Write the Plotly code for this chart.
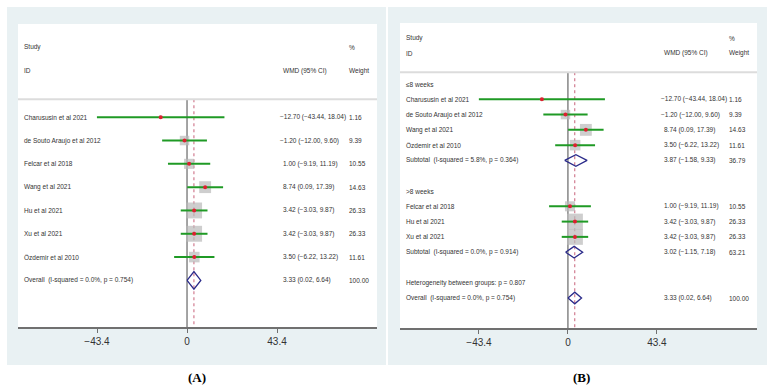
import plotly.graph_objects as go

# ---------------- data ----------------
studies_A = ["Charususin et al 2021", "de Souto Araujo et al 2012", "Felcar et al 2018",
             "Wang et al 2021", "Hu et al 2021", "Xu et al 2021", "Özdemir et al 2010"]
est_A = [-12.70, -1.20, 1.00, 8.74, 3.42, 3.42, 3.50]
lo_A = [-43.44, -12.00, -9.19, 0.09, -3.03, -3.03, -6.22]
hi_A = [18.04, 9.60, 11.19, 17.39, 9.87, 9.87, 13.22]
w_A = [1.16, 9.39, 10.55, 14.63, 26.33, 26.33, 11.61]

overall_label = "Overall  (I-squared = 0.0%, p = 0.754)"
overall_est, overall_lo, overall_hi, overall_w = 3.33, 0.02, 6.64, 100.00

group1_title = "≤8 weeks"
studies_B1 = ["Charususin et al 2021", "de Souto Araujo et al 2012", "Wang et al 2021", "Özdemir et al 2010"]
est_B1 = [-12.70, -1.20, 8.74, 3.50]
lo_B1 = [-43.44, -12.00, 0.09, -6.22]
hi_B1 = [18.04, 9.60, 17.39, 13.22]
w_B1 = [1.16, 9.39, 14.63, 11.61]
sub1_label = "Subtotal  (I-squared = 5.8%, p = 0.364)"
sub1 = [3.87, -1.58, 9.33, 36.79]

group2_title = ">8 weeks"
studies_B2 = ["Felcar et al 2018", "Hu et al 2021", "Xu et al 2021"]
est_B2 = [1.00, 3.42, 3.42]
lo_B2 = [-9.19, -3.03, -3.03]
hi_B2 = [11.19, 9.87, 9.87]
w_B2 = [10.55, 26.33, 26.33]
sub2_label = "Subtotal  (I-squared = 0.0%, p = 0.914)"
sub2 = [3.02, -1.15, 7.18, 63.21]

het_label = "Heterogeneity between groups: p = 0.807"

tick_vals = [-43.4, 0, 43.4]
tick_text = ["−43.4", "0", "43.4"]

# ---------------- style ----------------
FONT = "Liberation Sans, Arial, sans-serif"
TXT = "#333333"
GREEN = "#1f9a25"
NAVY = "#2b2b8a"
GRAY = "#b9b9b9"
RED = "#dd2030"
BOX = "#e9f1f3"

def fmt(v):
    return f"{v:.2f}".replace("-", "−")

def ci_text(e, l, h):
    return f"{fmt(e)} ({fmt(l)}, {fmt(h)})"

fig = go.Figure()
annotations = []
shapes = []

def add_panel(xa, ya, rows, xrange_, yrange_, fsize, col_label, col_ci, col_w):
    xr = "x" if xa == 1 else f"x{xa}"
    yr = "y" if ya == 1 else f"y{ya}"
    for txt, xpos, ypos in [("Study", col_label, -3), ("ID", col_label, -2),
                            ("%", col_w, -3), ("WMD (95% CI)", col_ci, -2), ("Weight", col_w, -2)]:
        annotations.append(dict(x=xpos, y=ypos, xref=xr, yref=yr, text=txt, showarrow=False,
                                xanchor="left", yanchor="middle",
                                font=dict(family=FONT, size=fsize, color=TXT)))
    hdr_y = -0.77
    shapes.append(dict(type="line", xref=f"{xr} domain", yref=yr, x0=0, x1=1, y0=hdr_y, y1=hdr_y,
                       line=dict(color="#dcdcdc", width=2), layer="above"))
    fig.add_trace(go.Scatter(x=[0, 0], y=[hdr_y, yrange_[0]], mode="lines",
                             line=dict(color="#4a4a4a", width=1), xaxis=xr, yaxis=yr,
                             hoverinfo="skip", showlegend=False))
    fig.add_trace(go.Scatter(x=[overall_est, overall_est], y=[hdr_y, yrange_[0]], mode="lines",
                             line=dict(color="#c8627a", width=1, dash="3px,3px"), xaxis=xr, yaxis=yr,
                             hoverinfo="skip", showlegend=False))
    study_rows = [r for r in rows if r["kind"] == "study"]
    fig.add_trace(go.Scatter(x=[r["est"] for r in study_rows], y=[r["y"] for r in study_rows],
                             mode="markers",
                             marker=dict(symbol="square", color=GRAY,
                                         size=[3.1 * r["w"] ** 0.5 for r in study_rows],
                                         line=dict(width=0)),
                             xaxis=xr, yaxis=yr, hoverinfo="skip", showlegend=False))
    cx, cy = [], []
    for r in study_rows:
        cx += [r["lo"], r["hi"], None]
        cy += [r["y"], r["y"], None]
    fig.add_trace(go.Scatter(x=cx, y=cy, mode="lines", line=dict(color=GREEN, width=2),
                             xaxis=xr, yaxis=yr, hoverinfo="skip", showlegend=False))
    fig.add_trace(go.Scatter(x=[r["est"] for r in study_rows], y=[r["y"] for r in study_rows],
                             mode="markers", marker=dict(symbol="circle", color=RED, size=4),
                             xaxis=xr, yaxis=yr, hoverinfo="skip", showlegend=False))
    dx, dy = [], []
    for r in rows:
        if r["kind"] == "diamond":
            h = 0.38
            dx += [r["lo"], r["est"], r["hi"], r["est"], r["lo"], None]
            dy += [r["y"], r["y"] - h, r["y"], r["y"] + h, r["y"], None]
    fig.add_trace(go.Scatter(x=dx, y=dy, mode="lines", line=dict(color=NAVY, width=1.3),
                             xaxis=xr, yaxis=yr, hoverinfo="skip", showlegend=False))
    for r in rows:
        annotations.append(dict(x=col_label, y=r["y"], xref=xr, yref=yr, text=r["label"], showarrow=False,
                                xanchor="left", yanchor="middle",
                                font=dict(family=FONT, size=fsize, color=TXT)))
        if r["kind"] in ("study", "diamond"):
            t = ci_text(r["est"], r["lo"], r["hi"])
            annotations.append(dict(x=col_ci, y=r["y"], xref=xr, yref=yr, text=t, showarrow=False,
                                    xanchor="left", yanchor="middle", xshift=-3 if t.startswith("−") else 0,
                                    font=dict(family=FONT, size=fsize, color=TXT)))
            annotations.append(dict(x=col_w, y=r["y"], xref=xr, yref=yr, text=f"{r['w']:.2f}",
                                    showarrow=False, xanchor="left", yanchor="middle",
                                    font=dict(family=FONT, size=fsize, color=TXT)))

rows_A = []
for i, s in enumerate(studies_A):
    rows_A.append(dict(kind="study", y=i, label=s, est=est_A[i], lo=lo_A[i], hi=hi_A[i], w=w_A[i]))
rows_A.append(dict(kind="diamond", y=len(studies_A), label=overall_label,
                   est=overall_est, lo=overall_lo, hi=overall_hi, w=overall_w))

rows_B = []
yy = 0
rows_B.append(dict(kind="text", y=yy, label=group1_title)); yy += 1
for i, s in enumerate(studies_B1):
    rows_B.append(dict(kind="study", y=yy, label=s, est=est_B1[i], lo=lo_B1[i], hi=hi_B1[i], w=w_B1[i])); yy += 1
rows_B.append(dict(kind="diamond", y=yy, label=sub1_label, est=sub1[0], lo=sub1[1], hi=sub1[2], w=sub1[3])); yy += 2
rows_B.append(dict(kind="text", y=yy, label=group2_title)); yy += 1
for i, s in enumerate(studies_B2):
    rows_B.append(dict(kind="study", y=yy, label=s, est=est_B2[i], lo=lo_B2[i], hi=hi_B2[i], w=w_B2[i])); yy += 1
rows_B.append(dict(kind="diamond", y=yy, label=sub2_label, est=sub2[0], lo=sub2[1], hi=sub2[2], w=sub2[3])); yy += 2
rows_B.append(dict(kind="text", y=yy, label=het_label)); yy += 1
rows_B.append(dict(kind="diamond", y=yy, label=overall_label,
                   est=overall_est, lo=overall_lo, hi=overall_hi, w=overall_w))

W, H = 774, 389
xrA, yrA = [-81.5, 91.6], [9.0, -4.0]
xrB, yrB = [-81.9, 92.2], [15.96, -3.99]

shapes.append(dict(type="rect", xref="paper", yref="paper", x0=7 / W, x1=386 / W, y0=1 - 365 / H, y1=1 - 7 / H,
                   fillcolor=BOX, line=dict(width=0), layer="below"))
shapes.append(dict(type="rect", xref="paper", yref="paper", x0=388 / W, x1=767 / W, y0=1 - 365 / H, y1=1 - 7 / H,
                   fillcolor=BOX, line=dict(width=0), layer="below"))
domA_x, domA_y = [18 / W, 377 / W], [1 - 327 / H, 1 - 24 / H]
domB_x, domB_y = [400 / W, 757 / W], [1 - 328 / H, 1 - 23 / H]
for dx_, dy_ in [(domA_x, domA_y), (domB_x, domB_y)]:
    shapes.append(dict(type="rect", xref="paper", yref="paper", x0=dx_[0], x1=dx_[1], y0=dy_[0], y1=dy_[1],
                       fillcolor="white", line=dict(width=0), layer="below"))

add_panel(1, 1, rows_A, xrA, yrA, 6.5, -79.6, 45.3, 77.1)
add_panel(2, 2, rows_B, xrB, yrB, 6.5, -80.0, 45.8, 77.5)

axis_common = dict(showgrid=False, zeroline=False, showline=True, linecolor="#707070", linewidth=1.5,
                   ticks="outside", ticklen=4, tickcolor="#707070", tickwidth=1,
                   tickvals=tick_vals, ticktext=tick_text,
                   tickfont=dict(family=FONT, size=10, color=TXT))
yaxis_common = dict(showgrid=False, zeroline=False, showline=False, showticklabels=False, ticks="")

annotations.append(dict(x=197 / W, y=1 - 377 / H, xref="paper", yref="paper", text="<b>(A)</b>",
                        showarrow=False, xanchor="center", yanchor="middle",
                        font=dict(family="Liberation Serif, Times New Roman, serif", size=13, color="black")))
annotations.append(dict(x=581 / W, y=1 - 377 / H, xref="paper", yref="paper", text="<b>(B)</b>",
                        showarrow=False, xanchor="center", yanchor="middle",
                        font=dict(family="Liberation Serif, Times New Roman, serif", size=13, color="black")))

fig.update_layout(
    width=W, height=H, margin=dict(l=0, r=0, t=0, b=0),
    paper_bgcolor="white", plot_bgcolor="rgba(0,0,0,0)",
    showlegend=False,
    xaxis=dict(domain=domA_x, range=xrA, anchor="y", **axis_common),
    yaxis=dict(domain=domA_y, range=yrA, anchor="x", **yaxis_common),
    xaxis2=dict(domain=domB_x, range=xrB, anchor="y2", **axis_common),
    yaxis2=dict(domain=domB_y, range=yrB, anchor="x2", **yaxis_common),
    shapes=shapes, annotations=annotations,
)

fig.write_html("out.html")
